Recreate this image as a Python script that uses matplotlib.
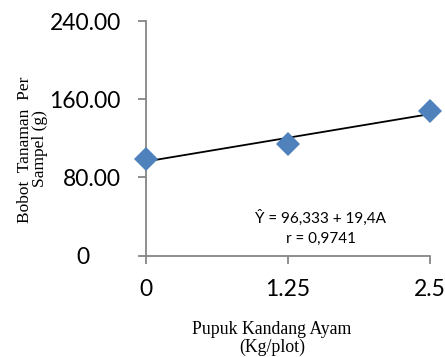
import numpy as np
import matplotlib.pyplot as plt
import matplotlib.transforms as mtransforms

# Data
dose = [0, 1.25, 2.5]
weight = [99.2, 114.6, 147.7]

# Regression shown on the chart
intercept = 96.333
slope = 19.4

y_ticks = [0, 80, 160, 240]
y_tick_labels = ['0', '80.00', '160.00', '240.00']
x_ticks = [0, 1.25, 2.5]
x_tick_labels = ['0', '1.25', '2.5']

fig = plt.figure(figsize=(4.45, 3.57), dpi=100)
ax = fig.add_axes([0.328, 0.284, 0.638, 0.657])

x_line = np.array([dose[0], dose[-1]])
ax.plot(x_line, intercept + slope * x_line, color='black', lw=1.3, zorder=2)
ax.plot(dose, weight, linestyle='none', marker='D', markersize=12.5,
        color='#4F81BD', markeredgewidth=0, zorder=3, clip_on=False)

ax.set_xlim(0, 2.5)
ax.set_ylim(0, 240)
ax.set_xticks(x_ticks)
ax.set_xticklabels(x_tick_labels)
ax.set_yticks(y_ticks)
ax.set_yticklabels(y_tick_labels)

for s in ['top', 'right']:
    ax.spines[s].set_visible(False)
for s in ['left', 'bottom']:
    ax.spines[s].set_color('#868686')
    ax.spines[s].set_linewidth(1.3)

ax.tick_params(axis='both', colors='#868686', length=5.5, width=1.3,
               labelcolor='black', labelsize=16.5)
ax.tick_params(axis='y', pad=12.5)
ax.tick_params(axis='x', pad=11)
for lab in ax.get_xticklabels() + ax.get_yticklabels():
    lab.set_fontfamily('Lato')

# the "0" on the y axis sits further left, as in the original
zero_lab = ax.get_yticklabels()[0]
zero_lab.set_transform(zero_lab.get_transform() +
                       mtransforms.ScaledTranslation(-0.31, 0, fig.dpi_scale_trans))

ax.text(0.616, 0.118, 'Ŷ = 96,333 + 19,4A\nr = 0,9741', transform=ax.transAxes,
        ha='center', va='center', fontsize=11, family='Lato', linespacing=1.5)

# axis titles in serif
fig.text(0.056, 0.58, 'Bobot  Tanaman  Per', rotation=90, ha='center', va='center',
         fontsize=12.5, family='Liberation Serif')
fig.text(0.090, 0.585, 'Sampel (g)', rotation=90, ha='center', va='center',
         fontsize=12.5, family='Liberation Serif')
fig.text(0.611, 0.053, 'Pupuk Kandang Ayam\n(Kg/plot)', ha='center', va='center',
         fontsize=12.8, family='Liberation Serif', linespacing=1.05)

fig.savefig('out.png', dpi=100)
